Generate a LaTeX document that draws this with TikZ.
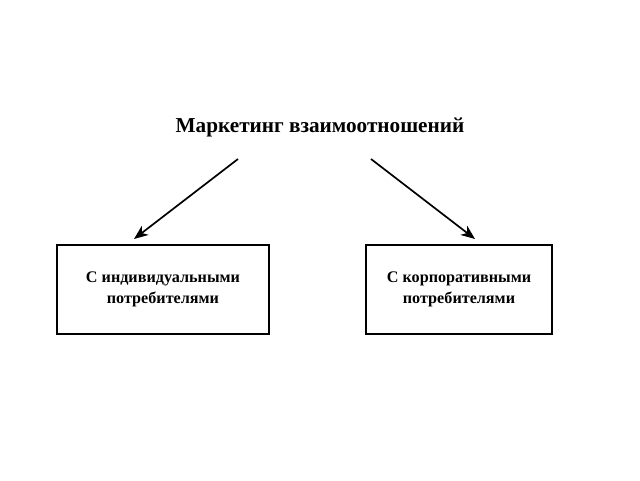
\documentclass[tikz,border=0pt]{standalone}
\usepackage{fontspec}
\setmainfont{Liberation Serif}
\usetikzlibrary{arrows.meta}
\begin{document}
\begin{tikzpicture}[
    title/.style={font=\bfseries\fontsize{15.1}{18}\selectfont},
    box/.style={draw=black, line width=1.1pt, minimum width=#1, minimum height=2.225cm,
                align=center, font=\bfseries\fontsize{11.5}{14.5}\selectfont},
    link/.style={line width=1.2pt, -{Stealth[length=10pt,width=8pt,inset=3pt]}}]
    \useasboundingbox (0,0) rectangle (16,12);
    \node[title] (mark) at (8,8.825) {Маркетинг взаимоотношений};
    \node[box=5.3cm] (indiv) at (4.075,4.7625) {С индивидуальными\\потребителями};
    \node[box=4.65cm] (corp) at (11.475,4.7625) {С корпоративными\\потребителями};
    \coordinate (ls) at (5.95,8.025);
    \coordinate (le) at (3.35,6.025);
    \coordinate (rs) at (9.275,8.025);
    \coordinate (re) at (11.875,6.025);
    \draw [link] (ls) -- (le);
    \draw [link] (rs) -- (re);
\end{tikzpicture}
\end{document}
